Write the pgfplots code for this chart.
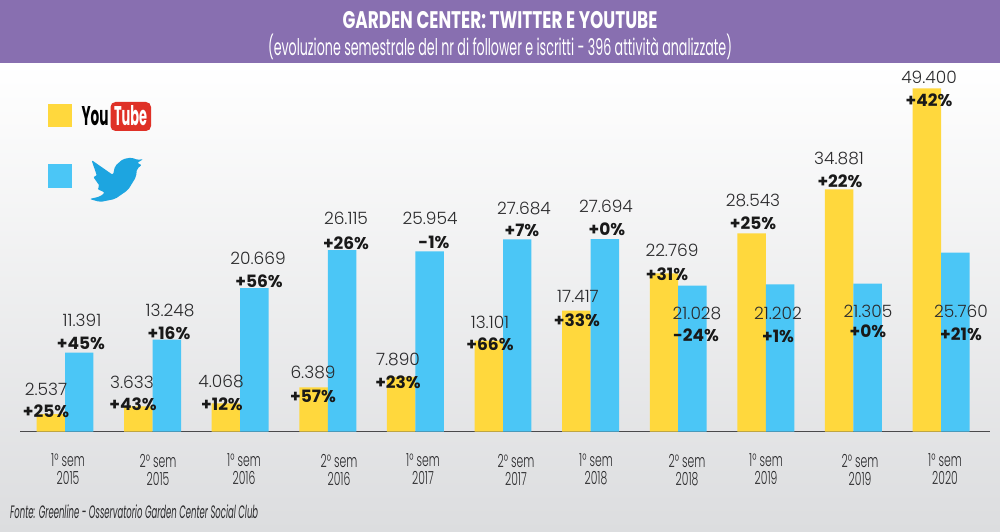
\documentclass[border=0pt]{standalone}
\usepackage{fontspec}
\usepackage{graphicx}
\usepackage{pgfplots}
\pgfplotsset{compat=1.18}
\setmainfont{Poppins}
\newfontfamily\lightf{Poppins Light}
\definecolor{band}{HTML}{886FB0}
\definecolor{yel}{HTML}{FFD83D}
\definecolor{blu}{HTML}{4BC6F6}
\definecolor{bird}{HTML}{1DA5E0}
\definecolor{ytred}{HTML}{DF3127}
\definecolor{bgb}{HTML}{DCDDDF}
\definecolor{basel}{HTML}{4A4A4C}
\definecolor{ink}{HTML}{2A2A2C}
\newcommand\tl[2]{\scalebox{.6}[1]{#1° sem}\\\scalebox{.6}[1]{#2}}
% value label and percent label, in pixels of the reference (y downwards)
\newcommand\val[3]{\node[text=ink,inner sep=0pt,anchor=center] at (#1,531-#2) {\lightf\fontsize{17}{17}\selectfont #3};}
\newcommand\pct[3]{\node[text=black!90,inner sep=0pt,anchor=center] at (#1,531-#2) {\fontsize{17}{16}\selectfont\bfseries #3};}
\begin{document}
\begin{tikzpicture}[x=1pt,y=1pt]
\useasboundingbox (0,0) rectangle (1000,531);
\shade[top color=white,bottom color=bgb] (0,0) rectangle (1000,468);
\fill[band] (0,468) rectangle (1000,531);
\node[text=white,inner sep=0pt] at (500,511) {\resizebox{315pt}{\height}{\fontsize{24}{24}\selectfont\bfseries GARDEN CENTER: TWITTER E YOUTUBE}};
\node[text=white,inner sep=0pt] at (500,484) {\resizebox{464pt}{\height}{\fontsize{23}{23}\selectfont (evoluzione semestrale del nr di follower e iscritti - 396 attività analizzate)}};
\begin{axis}[
  at={(20pt,99.3pt)},
  anchor=south west,
  width=970pt,height=368.7pt,scale only axis,
  xmin=-0.5137,xmax=10.559,ymin=0,ymax=53050,
  axis x line=bottom,axis y line=none,
  axis line style={-,basel,line width=1.2pt},
  ybar,bar width=0.325,
  ytick=\empty,
  xtick={0.0342,1.0616,2.0434,3.1279,4.0868,5.1484,6.0616,7.1005,8.0023,9.0753,10.0457},
  xticklabels={{\tl{1}{2015}},{\tl{2}{2015}},{\tl{1}{2016}},{\tl{2}{2016}},{\tl{1}{2017}},{\tl{2}{2017}},{\tl{1}{2018}},{\tl{2}{2018}},{\tl{1}{2019}},{\tl{2}{2019}},{\tl{1}{2020}}},
  major tick length=0pt,
  xticklabel style={align=center,text=ink,font=\lightf\fontsize{18}{18}\selectfont,inner sep=0pt,yshift=-22pt},
  clip=false,
]
\addplot+[ybar,bar shift=-0.1625,fill=yel,draw=none,mark=none] coordinates {(0,2537)(1,3633)(2,4068)(3,6389)(4,7890)(5,13101)(6,17417)(7,22769)(8,28543)(9,34881)(10,49400)};
\addplot+[ybar,bar shift=0.1625,fill=blu,draw=none,mark=none] coordinates {(0,11391)(1,13248)(2,20669)(3,26115)(4,25954)(5,27684)(6,27694)(7,21028)(8,21202)(9,21305)(10,25760)};
\end{axis}
% legend
\fill[yel] (48,531-104) rectangle (72,531-127);
\fill[blu] (48,531-164) rectangle (72,531-188);
\node[inner sep=0pt,text=black] at (95,531-116) {\resizebox{27pt}{19pt}{\bfseries You}};
\fill[ytred,rounded corners=5pt] (110.5,531-102) rectangle (151,531-131);
\node[inner sep=0pt,text=white] at (130.5,531-116) {\resizebox{33pt}{20pt}{\bfseries Tube}};
\fill[bird,rounded corners=2pt] (143.5,531-159) -- (137,531-163) -- (142,531-165) -- (137,531-168.5) -- (136,531-177) -- (128,531-190) -- (115,531-199) -- (100,531-202) -- (89.5,531-199) -- (100,531-196.5) -- (105,531-192.5) -- (97,531-189) -- (100,531-186.5) -- (93,531-176.5) -- (97,531-176) -- (91.5,531-160) -- (113,531-175) -- (115,531-166) -- (123,531-159) -- (132,531-157.5) -- (137,531-160) -- cycle;
% values
\val{46}{389}{2.537}\pct{46}{411}{+25\%}
\val{82}{320}{11.391}\pct{81}{343}{+45\%}
\val{132}{382}{3.633}\pct{133}{404}{+43\%}
\val{170}{310}{13.248}\pct{169}{333}{+16\%}
\val{221}{381}{4.068}\pct{222}{404}{+12\%}
\val{258}{258}{20.669}\pct{259}{281}{+56\%}
\val{313}{372}{6.389}\pct{313}{396}{+57\%}
\val{346}{218}{26.115}\pct{346}{243}{+26\%}
\val{398}{359}{7.890}\pct{398}{382}{+23\%}
\val{430}{218}{25.954}\pct{434}{242}{-1\%}
\val{490}{322}{13.101}\pct{490}{344}{+66\%}
\val{524}{208}{27.684}\pct{522}{230}{+7\%}
\val{578}{296}{17.417}\pct{577}{320}{+33\%}
\val{606}{206}{27.694}\pct{607}{229}{+0\%}
\val{672}{250}{22.769}\pct{667}{274}{+31\%}
\val{697}{313}{21.028}\pct{696}{335}{-24\%}
\val{753}{200}{28.543}\pct{753}{223}{+25\%}
\val{778}{313}{21.202}\pct{778}{336}{+1\%}
\val{839}{158}{34.881}\pct{840}{181}{+22\%}
\val{868}{311}{21.305}\pct{868}{331}{+0\%}
\val{929}{77}{49.400}\pct{929}{100}{+42\%}
\val{961}{311}{25.760}\pct{961}{334}{+21\%}
\node[text=ink,inner sep=0pt,anchor=west] at (10,531-512) {\resizebox{248pt}{\height}{\fontsize{18}{18}\selectfont\itshape Fonte: Greenline - Osservatorio Garden Center Social Club}};
\end{tikzpicture}
\end{document}
